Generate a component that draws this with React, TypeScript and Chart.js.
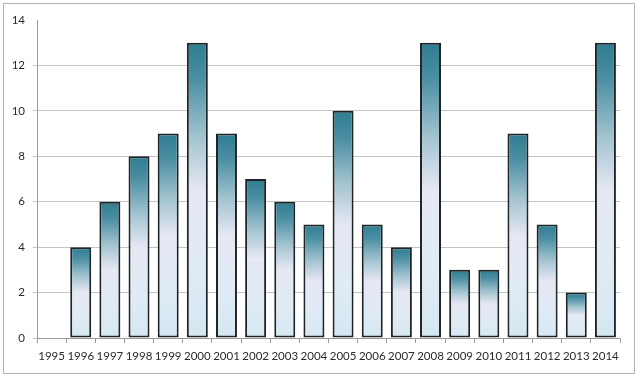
import React, { useEffect, useRef } from "react";
import { Chart, registerables } from "chart.js";

Chart.register(...registerables);

const years: string[] = [
  "1995", "1996", "1997", "1998", "1999", "2000", "2001", "2002", "2003", "2004",
  "2005", "2006", "2007", "2008", "2009", "2010", "2011", "2012", "2013", "2014",
];
const counts: (number | null)[] = [
  null, 4, 6, 8, 9, 13, 9, 7, 6, 5, 10, 5, 4, 13, 3, 3, 9, 5, 2, 13,
];
const yTicks: number[] = [0, 2, 4, 6, 8, 10, 12, 14];

const framePlugin = {
  id: "frame",
  beforeDraw(chart: any) {
    const c = chart.ctx;
    c.save();
    c.fillStyle = "#ffffff";
    c.fillRect(0, 0, chart.width, chart.height);
    c.strokeStyle = "#b4b4b4";
    c.lineWidth = 1;
    c.strokeRect(3.5, 3.5, 631, 370);
    c.restore();
  },
};

export default function App() {
  const ref = useRef<HTMLCanvasElement | null>(null);
  useEffect(() => {
    if (!ref.current) return;
    const chart = new Chart(ref.current, {
      type: "bar",
      data: {
        labels: years,
        datasets: [
          {
            data: counts,
            borderColor: "#1e2326",
            borderWidth: 2,
            borderSkipped: false,
            barPercentage: 0.72,
            categoryPercentage: 1,
            backgroundColor: (ctx: any) => {
              const ch = ctx.chart;
              const ys = ch.scales && ch.scales.y;
              const v = ctx.raw;
              if (!ys || v == null) return "#dcebf4";
              const top = ys.getPixelForValue(v);
              const bottom = ys.getPixelForValue(0);
              if (!isFinite(top) || !isFinite(bottom) || top === bottom) return "#dcebf4";
              const g = ch.ctx.createLinearGradient(0, top, 0, bottom);
              g.addColorStop(0, "#2f7c91");
              g.addColorStop(0.12, "#4a8ea2");
              g.addColorStop(0.32, "#a3c4d0");
              g.addColorStop(0.5, "#e6e8f4");
              g.addColorStop(0.75, "#e0ebf5");
              g.addColorStop(1, "#d4e8f2");
              return g;
            },
          },
        ],
      },
      options: {
        responsive: false,
        animation: false,
        layout: { padding: { top: 20, right: 20, bottom: 0, left: 0 } },
        plugins: { legend: { display: false }, tooltip: { enabled: false } },
        scales: {
          x: {
            offset: true,
            grid: {
              offset: true,
              drawOnChartArea: false,
              drawTicks: true,
              tickLength: 5,
              color: "#9a9a9a",
            },
            border: { display: true, color: "#9a9a9a", width: 1 },
            ticks: {
              autoSkip: false,
              maxRotation: 0,
              minRotation: 0,
              padding: 6,
              color: "#2a2a2a",
              font: { family: "Lato", size: 11.5 },
            },
            afterFit: (s: any) => {
              s.height = 49;
            },
          },
          y: {
            min: 0,
            max: 14,
            afterBuildTicks: (s: any) => {
              s.ticks = yTicks.map((v) => ({ value: v }));
            },
            grid: {
              color: (c: any) => (c.tick && c.tick.value === 14 ? "rgba(0,0,0,0)" : "#c4c4c4"),
              tickLength: 4,
              lineWidth: 1,
            },
            border: { display: true, color: "#9a9a9a", width: 1 },
            ticks: {
              padding: 8,
              color: "#2a2a2a",
              font: { family: "Lato", size: 11.5 },
            },
            afterFit: (s: any) => {
              s.width = 37;
            },
          },
        },
      },
      plugins: [framePlugin],
    });
    return () => chart.destroy();
  }, []);
  return (
    <div style={{ position: "fixed", left: 0, top: 0, width: 640, height: 387, background: "#fff" }}>
      <canvas ref={ref} width={640} height={387} style={{ display: "block" }} />
    </div>
  );
}
